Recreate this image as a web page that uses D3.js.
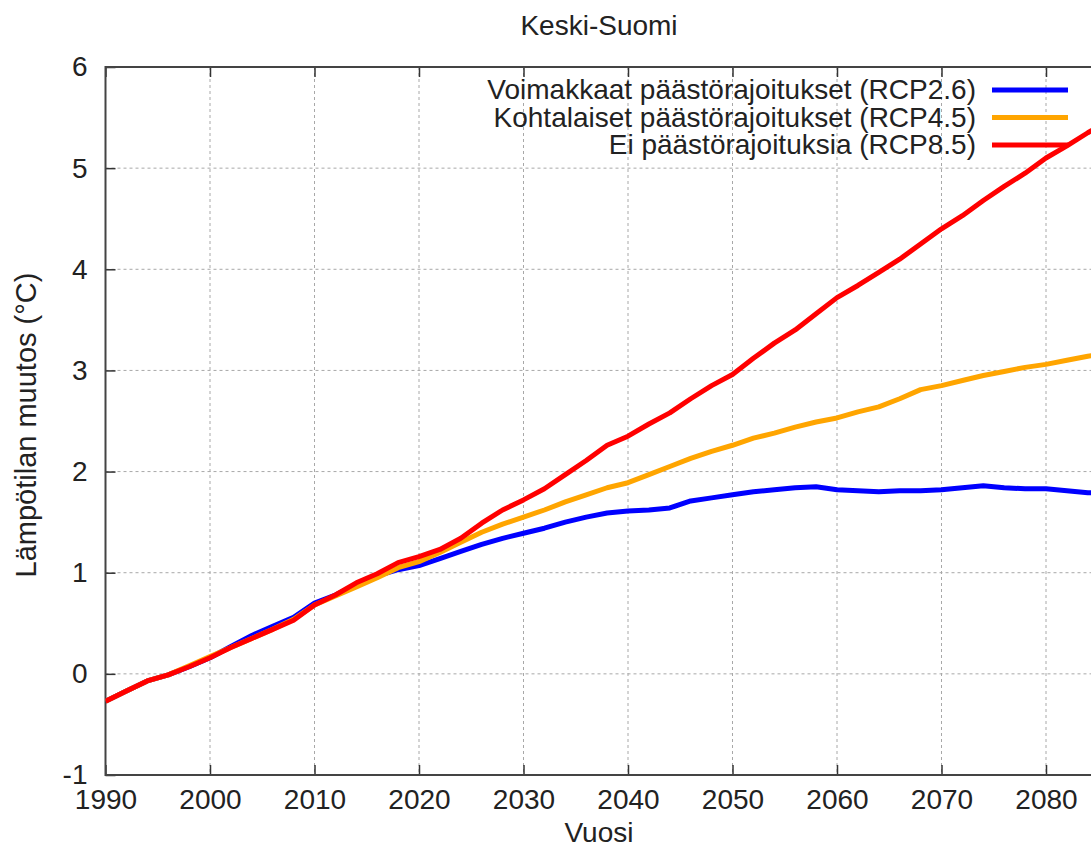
<!DOCTYPE html>
<html>
<head>
<meta charset="utf-8">
<script src="https://cdn.jsdelivr.net/npm/d3@7"></script>
<style>
  body { margin: 0; background: #fff; }
  text { font-family: "Liberation Sans", Arial, sans-serif; fill: #222; }
</style>
</head>
<body>
<svg width="1091" height="850"></svg>
<script>
// vuodet, 2 vuoden välein
var years = [1990, 1992, 1994, 1996, 1998, 2000, 2002, 2004, 2006, 2008,
    2010, 2012, 2014, 2016, 2018, 2020, 2022, 2024, 2026, 2028,
    2030, 2032, 2034, 2036, 2038, 2040, 2042, 2044, 2046, 2048,
    2050, 2052, 2054, 2056, 2058, 2060, 2062, 2064, 2066, 2068,
    2070, 2072, 2074, 2076, 2078, 2080, 2082, 2084, 2086];

var rcp26 = [-0.27, -0.17, -0.07, -0.01, 0.07, 0.16, 0.27, 0.38, 0.47, 0.56,
    0.70, 0.78, 0.88, 0.97, 1.03, 1.07, 1.14, 1.21, 1.28, 1.34,
    1.39, 1.44, 1.50, 1.55, 1.59, 1.61, 1.62, 1.64, 1.71, 1.74,
    1.77, 1.80, 1.82, 1.84, 1.85, 1.82, 1.81, 1.80, 1.81, 1.81,
    1.82, 1.84, 1.86, 1.84, 1.83, 1.83, 1.81, 1.79, 1.79];

var rcp45 = [-0.27, -0.17, -0.07, -0.01, 0.08, 0.17, 0.26, 0.35, 0.44, 0.54,
    0.68, 0.77, 0.86, 0.95, 1.05, 1.11, 1.20, 1.30, 1.40, 1.48,
    1.55, 1.62, 1.70, 1.77, 1.84, 1.89, 1.97, 2.05, 2.13, 2.20,
    2.26, 2.33, 2.38, 2.44, 2.49, 2.53, 2.59, 2.64, 2.72, 2.81,
    2.85, 2.90, 2.95, 2.99, 3.03, 3.06, 3.10, 3.14, 3.17];

var rcp85 = [-0.27, -0.17, -0.07, -0.01, 0.07, 0.16, 0.26, 0.35, 0.44, 0.53,
    0.68, 0.78, 0.90, 0.99, 1.10, 1.16, 1.23, 1.34, 1.49, 1.62,
    1.72, 1.83, 1.97, 2.11, 2.26, 2.35, 2.47, 2.58, 2.72, 2.85,
    2.96, 3.12, 3.27, 3.40, 3.56, 3.72, 3.84, 3.97, 4.10, 4.25,
    4.40, 4.53, 4.68, 4.82, 4.95, 5.10, 5.22, 5.35, 5.47];

var seriesNames = [
    "Voimakkaat päästörajoitukset (RCP2.6)",
    "Kohtalaiset päästörajoitukset (RCP4.5)",
    "Ei päästörajoituksia (RCP8.5)"
];
var seriesColors = ["#0000ff", "#ffa500", "#ff0000"];
var seriesValues = [rcp26, rcp45, rcp85];

var xTicks = [1990, 2000, 2010, 2020, 2030, 2040, 2050, 2060, 2070, 2080];
var yTicks = [-1, 0, 1, 2, 3, 4, 5, 6];

var svg = d3.select("svg");

var mLeft = 105.5, mTop = 67, mBottom = 775, mRight = 1255;

var x = d3.scaleLinear().domain([1990, 2100]).range([mLeft, mRight]);
var y = d3.scaleLinear().domain([-1, 6]).range([mBottom, mTop]);

svg.append("clipPath")
    .attr("id", "plotclip")
  .append("rect")
    .attr("x", mLeft).attr("y", mTop)
    .attr("width", mRight - mLeft).attr("height", mBottom - mTop);

// ruudukko
var grid = svg.append("g");
grid.selectAll("line.gx")
    .data(xTicks.slice(1))
  .enter().append("line")
    .attr("x1", function(d) { return x(d); })
    .attr("x2", function(d) { return x(d); })
    .attr("y1", mTop).attr("y2", mBottom)
    .attr("stroke", "#a8a8a8")
    .attr("stroke-width", 1)
    .attr("stroke-dasharray", "3,3");
grid.selectAll("line.gy")
    .data(yTicks.slice(1, -1))
  .enter().append("line")
    .attr("x1", mLeft).attr("x2", mRight)
    .attr("y1", function(d) { return y(d); })
    .attr("y2", function(d) { return y(d); })
    .attr("stroke", "#a8a8a8")
    .attr("stroke-width", 1)
    .attr("stroke-dasharray", "3,3");

// akselit
var xAxisB = d3.axisBottom(x).tickValues(xTicks).tickSize(-10).tickPadding(14).tickFormat(d3.format("d"));
var xAxisT = d3.axisTop(x).tickValues(xTicks).tickSize(-10).tickFormat("");
var yAxisL = d3.axisLeft(y).tickValues(yTicks).tickSize(-10).tickPadding(18)
    .tickFormat(function(d) { return d < 0 ? "-" + (-d) : String(d); });

function styleAxis(g) {
    g.select(".domain").remove();
    g.selectAll(".tick line").attr("stroke", "#333").attr("stroke-width", 1.5);
    g.selectAll(".tick text")
        .attr("fill", "#222")
        .style("font-family", "Liberation Sans, Arial, sans-serif")
        .style("font-size", "28px");
}

svg.append("g").attr("transform", "translate(0," + mBottom + ")").call(xAxisB).call(styleAxis);
svg.append("g").attr("transform", "translate(0," + mTop + ")").call(xAxisT).call(styleAxis);
svg.append("g").attr("transform", "translate(" + mLeft + ",0)").call(yAxisL).call(styleAxis);

// kehys
svg.append("rect")
    .attr("x", mLeft).attr("y", mTop)
    .attr("width", mRight - mLeft).attr("height", mBottom - mTop)
    .attr("fill", "none")
    .attr("stroke", "#444")
    .attr("stroke-width", 2);

// viivat
var line = d3.line()
    .x(function(d, i) { return x(years[i]); })
    .y(function(d) { return y(d); });

svg.append("g")
    .attr("clip-path", "url(#plotclip)")
  .selectAll("path")
    .data(seriesValues)
  .enter().append("path")
    .attr("d", line)
    .attr("fill", "none")
    .attr("stroke", function(d, i) { return seriesColors[i]; })
    .attr("stroke-width", 5)
    .attr("stroke-linejoin", "round");

// selite
var legend = svg.append("g")
  .selectAll("g")
    .data(seriesNames)
  .enter().append("g")
    .attr("transform", function(d, i) { return "translate(0," + (90 + i * 27.5) + ")"; });

legend.append("text")
    .attr("x", 976)
    .attr("y", 9)
    .attr("text-anchor", "end")
    .style("font-size", "28px")
    .text(function(d) { return d; });

legend.append("line")
    .attr("x1", 992).attr("x2", 1068)
    .attr("y1", 0).attr("y2", 0)
    .attr("stroke", function(d, i) { return seriesColors[i]; })
    .attr("stroke-width", 5);

// otsikot
svg.append("text")
    .attr("x", 599).attr("y", 35)
    .attr("text-anchor", "middle")
    .style("font-size", "28px")
    .text("Keski-Suomi");

svg.append("text")
    .attr("x", 599).attr("y", 842)
    .attr("text-anchor", "middle")
    .style("font-size", "28px")
    .text("Vuosi");

svg.append("text")
    .attr("transform", "translate(36,425) rotate(-90)")
    .attr("text-anchor", "middle")
    .style("font-size", "29px")
    .text("Lämpötilan muutos (°C)");
</script>
</body>
</html>
